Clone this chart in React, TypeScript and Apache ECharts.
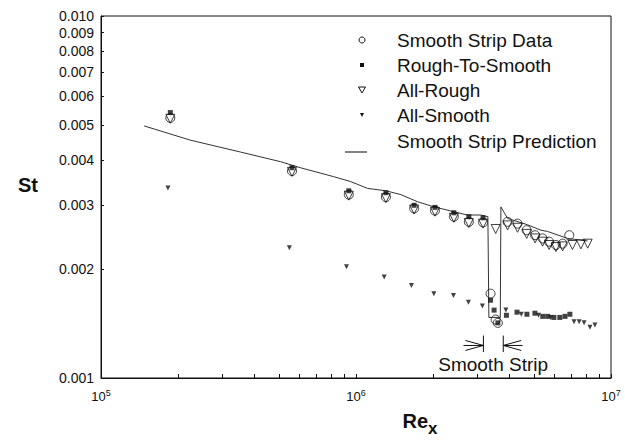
import React, { useEffect, useRef } from "react";
import * as echarts from "echarts";

// ---- data (Re_x, St) ----
const smoothStripRe = [1.87e5, 5.61e5, 9.37e5, 1.31e6, 1.69e6, 2.04e6, 2.42e6, 2.77e6, 3.15e6, 3.37e6, 3.53e6, 3.6e6, 3.93e6, 4.3e6, 4.67e6, 5.04e6, 5.39e6, 5.72e6, 6.08e6, 6.46e6, 6.86e6];
const smoothStripSt = [0.00523, 0.00373, 0.00321, 0.00316, 0.00294, 0.0029, 0.00279, 0.0027, 0.00269, 0.00171, 0.00145, 0.00142, 0.0027, 0.00267, 0.00256, 0.00248, 0.00243, 0.00238, 0.00233, 0.00235, 0.00248];

const roughToSmoothRe = [1.87e5, 5.61e5, 9.37e5, 1.31e6, 1.69e6, 2.04e6, 2.42e6, 2.77e6, 3.15e6, 3.37e6, 3.48e6, 3.6e6, 3.89e6, 4.28e6, 4.68e6, 5.03e6, 5.4e6, 5.65e6, 5.97e6, 6.3e6, 6.6e6, 6.9e6];
const roughToSmoothSt = [0.00541, 0.00381, 0.00329, 0.00325, 0.003, 0.00296, 0.00286, 0.00279, 0.00277, 0.00164, 0.00154, 0.00142, 0.00149, 0.00152, 0.0015, 0.00151, 0.00148, 0.00148, 0.00147, 0.00147, 0.00148, 0.0015];

const allRoughRe = [1.87e5, 5.61e5, 9.37e5, 1.31e6, 1.69e6, 2.04e6, 2.42e6, 2.77e6, 3.15e6, 3.53e6, 3.93e6, 4.3e6, 4.67e6, 5.04e6, 5.39e6, 5.72e6, 6.08e6, 6.46e6, 7.06e6, 7.62e6, 8.1e6];
const allRoughSt = [0.0052, 0.00371, 0.00319, 0.00314, 0.00292, 0.00288, 0.00277, 0.00268, 0.00267, 0.00258, 0.00264, 0.0026, 0.0025, 0.00243, 0.00238, 0.00233, 0.0023, 0.00231, 0.00233, 0.00234, 0.00235];

const allSmoothRe = [1.83e5, 5.48e5, 9.18e5, 1.29e6, 1.65e6, 2.02e6, 2.41e6, 2.76e6, 3.13e6, 3.87e6, 4.45e6, 5.2e6, 5.8e6, 7.16e6, 7.5e6, 7.84e6, 8.27e6, 8.65e6];
const allSmoothSt = [0.00335, 0.00229, 0.00203, 0.0019, 0.0018, 0.00171, 0.00169, 0.00162, 0.00158, 0.00154, 0.0015, 0.00149, 0.00147, 0.00143, 0.00143, 0.00142, 0.00138, 0.0014];

const predictionRe = [1.476e5, 2.24e5, 3.52e5, 5.05e5, 6.05e5, 8.16e5, 9.51e5, 1.11e6, 1.31e6, 1.5e6, 1.74e6, 2.02e6, 2.42e6, 2.73e6, 3.08e6, 3.29e6, 3.32e6, 3.68e6, 3.7e6, 3.93e6, 4.71e6, 5.31e6, 5.64e6, 6.76e6, 8.09e6];
const predictionSt = [0.00497, 0.00454, 0.00421, 0.00396, 0.00381, 0.0036, 0.00349, 0.00334, 0.00329, 0.00321, 0.00307, 0.00297, 0.00288, 0.00282, 0.00282, 0.00279, 0.00147, 0.00147, 0.00297, 0.00276, 0.00265, 0.00256, 0.00254, 0.00243, 0.00239];

const yTickValues = [0.001, 0.002, 0.003, 0.004, 0.005, 0.006, 0.007, 0.008, 0.009, 0.01];
const xDecades = [5, 6, 7];

const legendNames = ["Smooth Strip Data", "Rough-To-Smooth", "All-Rough", "All-Smooth", "Smooth Strip Prediction"];

// Smooth-strip annotation (edges in Re_x, arrow level in St)
const stripEdgesRe = [3.16e6, 3.78e6];
const stripArrowTailRe = [2.64e6, 4.5e6];
const stripArrowSt = 0.00123;
const stripBarSt = [0.00131, 0.00118];
const stripLabelAt = [3.45e6, 0.00109];

const FONT = 'Arial, "Liberation Sans", Helvetica, sans-serif';
const INK = "#111";
const L = Math.log10;

export default function App() {
  const ref = useRef<HTMLDivElement>(null);

  useEffect(() => {
    const chart = echarts.init(ref.current!, null, { renderer: "svg" });
    const pts = (xs: number[], ys: number[]) => xs.map((x, i) => [L(x), L(ys[i])]);

    const xTicks: number[] = [];
    for (const d of [5, 6]) for (let k = 1; k <= 9; k++) xTicks.push(d + L(k));
    xTicks.push(7);

    chart.setOption({
      animation: false,
      backgroundColor: "#fff",
      grid: { left: 101, right: 14, top: 16, bottom: 63, show: true, borderColor: INK, borderWidth: 1, backgroundColor: "transparent" },
      xAxis: {
        type: "value",
        min: 5,
        max: 7,
        axisLine: { lineStyle: { color: INK, width: 1 } },
        axisTick: { inside: true, length: 4, customValues: xTicks, lineStyle: { color: INK } },
        axisLabel: {
          customValues: xDecades,
          margin: 10,
          formatter: (v: number) => `{b|10}{s|${Math.round(v)}}`,
          rich: {
            b: { fontSize: 13, fontFamily: FONT, color: INK, lineHeight: 16 },
            s: { fontSize: 9, fontFamily: FONT, color: INK, lineHeight: 16, verticalAlign: "top" },
          },
        },
        splitLine: { show: false },
      },
      yAxis: {
        type: "value",
        min: -3,
        max: -2,
        axisLine: { show: true, lineStyle: { color: INK, width: 1 } },
        axisTick: { show: true, inside: true, length: 3, customValues: yTickValues.map(L), lineStyle: { color: INK } },
        axisLabel: {
          customValues: yTickValues.map(L),
          margin: 7,
          fontSize: 14,
          fontFamily: FONT,
          color: INK,
          formatter: (v: number) => Math.pow(10, v).toFixed(3),
        },
        splitLine: { show: false },
      },
      series: [
        {
          name: legendNames[4],
          type: "line",
          data: pts(predictionRe, predictionSt),
          symbol: "none",
          lineStyle: { color: "#333", width: 1 },
          z: 1,
        },
        {
          name: legendNames[2],
          type: "scatter",
          data: pts(allRoughRe, allRoughSt),
          symbol: "triangle",
          symbolRotate: 180,
          symbolSize: 9,
          itemStyle: { color: "rgba(0,0,0,0)", borderColor: INK, borderWidth: 1 },
          z: 2,
        },
        {
          name: legendNames[0],
          type: "scatter",
          data: pts(smoothStripRe, smoothStripSt),
          symbol: "circle",
          symbolSize: 9,
          itemStyle: { color: "rgba(0,0,0,0)", borderColor: INK, borderWidth: 1 },
          z: 2,
        },
        {
          name: legendNames[1],
          type: "scatter",
          data: pts(roughToSmoothRe, roughToSmoothSt),
          symbol: "rect",
          symbolSize: 5,
          itemStyle: { color: INK },
          z: 3,
        },
        {
          name: legendNames[3],
          type: "scatter",
          data: pts(allSmoothRe, allSmoothSt),
          symbol: "triangle",
          symbolRotate: 180,
          symbolSize: 5,
          itemStyle: { color: INK },
          z: 3,
        },
      ],
    });

    const px = (x: number, y: number) => chart.convertToPixel({ gridIndex: 0 }, [L(x), L(y)]) as number[];

    const g: any[] = [];
    // strip annotation
    stripEdgesRe.forEach((e, i) => {
      const a = px(e, stripBarSt[0]);
      const b = px(e, stripBarSt[1]);
      g.push({ type: "line", shape: { x1: a[0], y1: a[1], x2: b[0], y2: b[1] }, style: { stroke: INK, lineWidth: 1 } });
      const tip = px(e, stripArrowSt);
      const tail = px(stripArrowTailRe[i], stripArrowSt);
      const dir = tail[0] < tip[0] ? -1 : 1;
      g.push({ type: "line", shape: { x1: tail[0], y1: tail[1], x2: tip[0], y2: tip[1] }, style: { stroke: INK, lineWidth: 1 } });
      g.push({ type: "polyline", shape: { points: [[tip[0] + dir * 18, tip[1] - 5], [tip[0], tip[1]], [tip[0] + dir * 18, tip[1] + 5]] }, style: { stroke: INK, fill: "none", lineWidth: 1 } });
    });
    const lab = px(stripLabelAt[0], stripLabelAt[1]);
    g.push({ type: "text", x: lab[0], y: lab[1], style: { text: "Smooth Strip", font: `19px ${FONT}`, fill: INK, align: "center", verticalAlign: "middle" } });

    // legend
    const lx = 362;
    const ly = [40, 65, 90, 115, 141];
    g.push({ type: "circle", shape: { cx: lx, cy: ly[0], r: 3 }, style: { fill: "#fff", stroke: INK, lineWidth: 1 } });
    g.push({ type: "rect", shape: { x: lx - 2, y: ly[1] - 2, width: 4, height: 4 }, style: { fill: INK } });
    g.push({ type: "polygon", shape: { points: [[lx - 3.5, ly[2] - 3], [lx + 3.5, ly[2] - 3], [lx, ly[2] + 3]] }, style: { fill: "#fff", stroke: INK, lineWidth: 1 } });
    g.push({ type: "polygon", shape: { points: [[lx - 2, ly[3] - 2], [lx + 2, ly[3] - 2], [lx, ly[3] + 2]] }, style: { fill: INK } });
    g.push({ type: "line", shape: { x1: 345, y1: 152, x2: 367, y2: 152 }, style: { stroke: "#333", lineWidth: 1.2 } });
    legendNames.forEach((n, i) => {
      g.push({ type: "text", x: 397, y: ly[i], style: { text: n, font: `19px ${FONT}`, fill: INK, align: "left", verticalAlign: "middle" } });
    });

    // axis titles
    g.push({ type: "text", x: 28, y: 185, style: { text: "St", font: `bold 20px ${FONT}`, fill: INK, align: "center", verticalAlign: "middle" } });
    g.push({
      type: "text",
      x: 420,
      y: 424,
      style: {
        text: "{r|Re}{x|x}",
        align: "center",
        verticalAlign: "middle",
        rich: {
          r: { font: `bold 20px ${FONT}`, fill: INK, lineHeight: 26, verticalAlign: "top" },
          x: { font: `bold 17px ${FONT}`, fill: INK, lineHeight: 26, verticalAlign: "bottom" },
        },
      },
    });

    chart.setOption({ graphic: g.map((e) => ({ ...e, z: 100 })) });

    return () => chart.dispose();
  }, []);

  return <div ref={ref} style={{ position: "fixed", left: 0, top: 0, width: 625, height: 441 }} />;
}
